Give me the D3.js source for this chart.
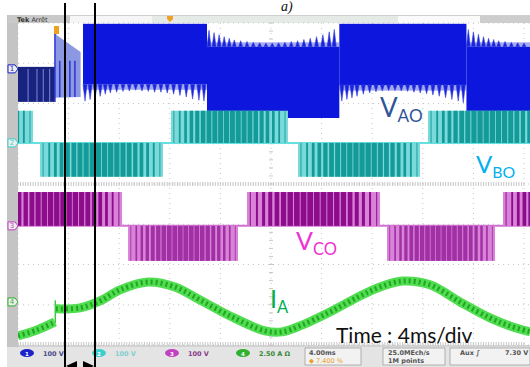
<!DOCTYPE html>
<html>
<head>
<meta charset="utf-8">
<script src="https://cdn.jsdelivr.net/npm/d3@7"></script>
<style>
  body { margin: 0; background: #fff; }
  svg { display: block; }
</style>
</head>
<body>
<script>
// time in ms, channel values in V (A for CH4)
var vaoStart  = [0, 5.14, 14.94, 25.40, 35.45];
var vaoEnd    = [2.92, 14.94, 25.40, 35.45, 40.6];
var vaoTop    = [5, 112, 55, 112, 55];
var vaoBottom = [-82, -38, -122, -40, -122];
// light gaps inside the first (dark) segment
var vaoGapT = [0.8, 1.5, 2.0, 2.5];
// transient between 2.9 and 5.1 ms: outline [time, V]
var vaoTrans = [[2.92, 97], [3.05, 84], [4.95, 42], [4.95, -70], [2.92, -72]];
var vaoTransLines = [3.3, 3.7, 4.1, 4.5];
// ringing spikes [time, base, tip]
var vaoSpikes = [
  [5.3,-38,-80],[5.7,-38,-76],[6.1,-38,-72],[6.5,-38,-68],[6.9,-38,-63],[7.3,-38,-60],[7.8,-38,-58],[8.3,-38,-56],
  [8.8,-38,-55],[9.3,-38,-53],[9.8,-38,-55],[10.3,-38,-56],[10.8,-38,-58],[11.3,-38,-58],[11.8,-38,-60],[12.3,-38,-63],
  [12.8,-38,-66],[13.3,-38,-70],[13.8,-38,-75],[14.3,-38,-78],[14.7,-38,-80],
  [15.1,55,96],[15.5,55,90],[15.9,55,85],[16.3,55,80],[16.7,55,76],[17.1,55,72],[17.6,55,70],[18.1,55,68],[18.6,55,66],
  [19.1,55,65],[19.6,55,64],[20.1,55,64],[20.6,55,65],[21.1,55,66],[21.6,55,68],[22.1,55,70],[22.6,55,73],[23.1,55,76],
  [23.6,55,80],[24.1,55,85],[24.6,55,92],[25.0,55,98],
  [25.6,-40,-80],[26.0,-40,-76],[26.4,-40,-72],[26.8,-40,-68],[27.3,-40,-63],[27.8,-40,-60],[28.3,-40,-57],[28.8,-40,-55],
  [29.3,-40,-54],[29.8,-40,-54],[30.3,-40,-55],[30.8,-40,-56],[31.3,-40,-58],[31.8,-40,-60],[32.3,-40,-62],[32.8,-40,-65],
  [33.3,-40,-68],[33.8,-40,-72],[34.3,-40,-76],[34.8,-40,-80],[35.2,-40,-84],
  [35.6,55,98],[36.0,55,92],[36.4,55,86],[36.8,55,80],[37.2,55,76],[37.6,55,73],[38.0,55,70],[38.5,55,68],[39.0,55,66],
  [39.5,55,65],[40.0,55,64]
];

var vboStart = [-8.5, 1.74, 12.09, 22.13, 32.41];
var vboEnd   = [1.19, 11.46, 21.34, 31.78, 42.1];
var vboLevel = [80, -84, 80, -84, 80];

var vcoStart = [-1.6, 8.70, 18.10, 29.17, 38.34];
var vcoEnd   = [8.22, 17.39, 28.62, 37.71, 48.0];
var vcoLevel = [84, -87, 84, -87, 84];

// pulse width ratio across one block, read from the dark/light pattern
var pwmDuty = [0.15, 0.3, 0.45, 0.6, 0.7, 0.78, 0.82, 0.85, 0.86, 0.86, 0.86, 0.86, 0.85, 0.82, 0.78, 0.7, 0.6, 0.45, 0.3, 0.15];

var iaPreT  = [0, 1.5, 2.92];
var iaPreV  = [-2.11, -1.74, -1.24];
var iaT = [3.0, 4.9, 6.48, 8.06, 10.28, 12.41, 14.39, 16.76, 19.53, 20.87, 22.29, 24.66, 27.04, 28.62, 30.43, 32.57, 34.94, 37.31, 38.89, 40.5];
var iaV = [-0.43, -0.37, 0.06, 0.75, 1.24, 0.93, 0.12, -0.87, -1.80, -1.86, -1.49, -0.62, 0.37, 0.93, 1.30, 1.06, 0, -0.99, -1.49, -1.86];

var chScale  = [100, 100, 100, 2.5];
var chOffset = [2.86, 1.02, -1.04, -2.93];
var chLabel  = ['100 V', '100 V', '100 V', '2.50 A \u03A9'];

var W = 530, H = 367;
var svg = d3.select('body').append('svg').attr('width', W).attr('height', H);

var x = d3.scaleLinear().domain([0, 40]).range([18, 524]);
var yDiv = d3.scaleLinear().domain([-4, 4]).range([345, 23]);
function yc(ch, v) { return yDiv(chOffset[ch] + v / chScale[ch]); }

// frame
svg.append('rect').attr('x', 7).attr('y', 15).attr('width', 11).attr('height', 333).attr('fill', '#c4c4c4');
svg.append('rect').attr('x', 8).attr('y', 15).attr('width', 62).attr('height', 8).attr('fill', '#c9c9c9');
svg.append('rect').attr('x', 70).attr('y', 15).attr('width', 82).attr('height', 8).attr('fill', '#f6f6f6');
svg.append('rect').attr('x', 152).attr('y', 15).attr('width', 246).attr('height', 8).attr('fill', '#e6eae6');
svg.append('rect').attr('x', 398).attr('y', 15).attr('width', 82).attr('height', 8).attr('fill', '#fafafa');
svg.append('rect').attr('x', 480).attr('y', 15).attr('width', 50).attr('height', 8).attr('fill', '#cdcdcd');
svg.append('line').attr('x1', 70).attr('x2', 530).attr('y1', 15.5).attr('y2', 15.5).attr('stroke', '#d0d0d0');
svg.append('text').attr('x', 17).attr('y', 21.5).attr('font-family', 'DejaVu Sans').attr('font-size', 6.5)
  .attr('fill', '#333').html('<tspan font-weight="bold">Tek</tspan> Arr\u00eat');

svg.append('defs').append('clipPath').attr('id', 'scr')
  .append('rect').attr('x', 18).attr('y', 23).attr('width', 512).attr('height', 323);

var grid = svg.append('g').attr('stroke', '#c8c8c8').attr('stroke-width', 1);
d3.range(0, 11).forEach(function(i) {
  grid.append('line').attr('x1', x(i * 4)).attr('x2', x(i * 4)).attr('y1', 23).attr('y2', 345)
    .attr('stroke-dasharray', '1,4');
});
d3.range(-4, 5).forEach(function(i) {
  grid.append('line').attr('x1', 18).attr('x2', 530).attr('y1', yDiv(i)).attr('y2', yDiv(i))
    .attr('stroke-dasharray', '1,4');
});
d3.range(0, 201).forEach(function(i) {
  var t = i * 0.2;
  grid.append('line').attr('x1', x(t)).attr('x2', x(t)).attr('y1', yDiv(0) - 2).attr('y2', yDiv(0) + 2);
  grid.append('line').attr('x1', x(t)).attr('x2', x(t)).attr('y1', 345).attr('y2', 342);
});
d3.range(0, 41).forEach(function(i) {
  var d = -4 + i * 0.2;
  grid.append('line').attr('x1', x(20) - 2).attr('x2', x(20) + 2).attr('y1', yDiv(d)).attr('y2', yDiv(d));
});

var scr = svg.append('g').attr('clip-path', 'url(#scr)');

// CH1 VAO
var blue = '#0c16dc';
vaoStart.forEach(function(s, i) {
  scr.append('rect').attr('x', x(s)).attr('width', x(vaoEnd[i]) - x(s))
    .attr('y', yc(0, vaoTop[i])).attr('height', yc(0, vaoBottom[i]) - yc(0, vaoTop[i]))
    .attr('fill', i === 0 ? '#17237f' : blue);
});
scr.append('g').selectAll('line').data(vaoGapT).enter().append('line')
  .attr('x1', function(d) { return x(d); }).attr('x2', function(d) { return x(d); })
  .attr('y1', yc(0, 0)).attr('y2', yc(0, -82)).attr('stroke', '#6c78c8').attr('stroke-width', 1.2);
scr.append('path').attr('d', d3.line().x(function(d) { return x(d[0]); }).y(function(d) { return yc(0, d[1]); })(vaoTrans) + 'Z')
  .attr('fill', '#8d98e2');
scr.append('g').selectAll('line').data(vaoTransLines).enter().append('line')
  .attr('x1', function(d) { return x(d); }).attr('x2', function(d) { return x(d); })
  .attr('y1', yc(0, 20)).attr('y2', yc(0, -70)).attr('stroke', '#2a36d0').attr('stroke-width', 1.5);
scr.append('line').attr('x1', x(2.92)).attr('x2', x(2.92)).attr('y1', yc(0, 97)).attr('y2', yc(0, -82))
  .attr('stroke', '#2a36d0').attr('stroke-width', 1.5);
// soft halo along the jagged edges, then the spikes
scr.append('g').selectAll('rect').data([[5.14, 14.94, -38, -52], [14.94, 25.40, 55, 66], [25.40, 35.45, -40, -54], [35.45, 40.6, 55, 66]])
  .enter().append('rect')
  .attr('x', function(d) { return x(d[0]); }).attr('width', function(d) { return x(d[1]) - x(d[0]); })
  .attr('y', function(d) { return Math.min(yc(0, d[2]), yc(0, d[3])); })
  .attr('height', function(d) { return Math.abs(yc(0, d[2]) - yc(0, d[3])); })
  .attr('fill', '#5a64e4').attr('opacity', 0.55);
scr.append('g').selectAll('path').data(vaoSpikes).enter().append('path')
  .attr('d', function(d) {
    return 'M' + x(d[0] - 0.16) + ',' + yc(0, d[1]) + 'L' + x(d[0]) + ',' + yc(0, d[2]) +
      'L' + x(d[0] + 0.16) + ',' + yc(0, d[1]) + 'Z';
  })
  .attr('fill', '#1822dc').attr('stroke', '#3842e0').attr('stroke-width', 0.6);

// PWM blocks
function drawPwm(ch, starts, ends, levels, light, dark, darkNeg, line) {
  var g = scr.append('g');
  g.append('line').attr('x1', 18).attr('x2', 530).attr('y1', yc(ch, 0)).attr('y2', yc(ch, 0))
    .attr('stroke', line).attr('stroke-width', 2);
  starts.forEach(function(s, i) {
    var y0 = yc(ch, 0), y1 = yc(ch, levels[i]);
    var top = Math.min(y0, y1), h = Math.abs(y1 - y0);
    g.append('rect').attr('x', x(s)).attr('width', x(ends[i]) - x(s)).attr('y', top).attr('height', h)
      .attr('fill', light);
    var slot = (ends[i] - s) / pwmDuty.length;
    g.selectAll(null).data(pwmDuty).enter().append('rect')
      .attr('x', function(d, k) { return x(s + slot * (k + 0.5 - d / 2)); })
      .attr('width', function(d) { return x(slot * d) - x(0); })
      .attr('y', top).attr('height', h)
      .attr('fill', levels[i] > 0 ? dark : darkNeg);
  });
}
drawPwm(1, vboStart, vboEnd, vboLevel, '#7ad9d9', '#159a9a', '#159a9a', '#63e0e0');
drawPwm(2, vcoStart, vcoEnd, vcoLevel, '#d882d8', '#8c0c8c', '#a030a4', '#d070d0');

// CH4 IA
var line = d3.line().x(function(d) { return x(d[0]); }).y(function(d) { return yc(3, d[1]); })
  .curve(d3.curveCatmullRom);
var pre = iaPreT.map(function(t, i) { return [t, iaPreV[i]]; });
var post = iaT.map(function(t, i) { return [t, iaV[i]]; });
[pre, post].forEach(function(p) {
  scr.append('path').attr('d', line(p)).attr('fill', 'none').attr('stroke', '#52dc52').attr('stroke-width', 9);
  scr.append('path').attr('d', line(p)).attr('fill', 'none').attr('stroke', '#1fa81f').attr('stroke-width', 5)
    .attr('stroke-dasharray', '2,3');
});
scr.append('line').attr('x1', x(2.95)).attr('x2', x(2.95)).attr('y1', yc(3, -1.3)).attr('y2', yc(3, 0.1))
  .attr('stroke', '#3cc83c').attr('stroke-width', 1.5);

// channel markers on the left
var mkCol = ['#1a22c8', '#3ccfcf', '#c040c0', '#30b030'];
chOffset.forEach(function(o, i) {
  var g = svg.append('g').attr('transform', 'translate(8,' + yDiv(o) + ')');
  g.append('path').attr('d', 'M0,-4H7L10,0L7,4H0Z').attr('fill', '#eee').attr('stroke', mkCol[i]).attr('stroke-width', 1);
  g.append('text').attr('x', 4).attr('y', 2.5).attr('text-anchor', 'middle').attr('font-size', 7)
    .attr('font-family', 'DejaVu Sans').attr('fill', mkCol[i]).text(i + 1);
});
// trigger markers
svg.append('rect').attr('x', 54).attr('y', 26).attr('width', 5).attr('height', 8).attr('fill', '#f0a020');
svg.append('path').attr('d', 'M167,16H173V19L170,22L167,19Z').attr('fill', '#f0a020');

// status bar
svg.append('rect').attr('x', 7).attr('y', 347).attr('width', 523).attr('height', 20).attr('fill', '#e4e4e4');
svg.append('line').attr('x1', 18).attr('x2', 530).attr('y1', 346).attr('y2', 346).attr('stroke', '#a8a8a8');
var stat = svg.append('g').attr('font-family', 'DejaVu Sans').attr('font-size', 6.5).attr('font-weight', 'bold');
var ovX = [20, 92, 165, 236];
var txCol = ['#4a4a8a', '#7fcfd0', '#8a3a8a', '#3a8a3a'];
ovX.forEach(function(ox, i) {
  stat.append('ellipse').attr('cx', ox + 7).attr('cy', 353).attr('rx', 7).attr('ry', 4).attr('fill', mkCol[i]);
  stat.append('text').attr('x', ox + 7).attr('y', 355.5).attr('text-anchor', 'middle').attr('fill', '#fff').attr('font-size', 5.5).text(i + 1);
  stat.append('text').attr('x', ox + 23).attr('y', 356).attr('fill', txCol[i]).text(chLabel[i]);
});
[[305, 56], [383, 62], [450, 80]].forEach(function(b) {
  stat.append('rect').attr('x', b[0]).attr('y', 348).attr('width', b[1]).attr('height', 17)
    .attr('fill', '#f2f2f2').attr('stroke', '#a0a0a0').attr('stroke-width', 0.8);
});
stat.append('text').attr('x', 309).attr('y', 355).attr('fill', '#555').text('4.00ms');
stat.append('text').attr('x', 309).attr('y', 363).attr('fill', '#e8a030').attr('font-weight', 'normal').text('\u25C6 7.400 %');
stat.append('text').attr('x', 388).attr('y', 355).attr('fill', '#555').text('25.0MEch/s');
stat.append('text').attr('x', 388).attr('y', 363).attr('fill', '#555').text('1M points');
stat.append('text').attr('x', 460).attr('y', 355).attr('fill', '#555').text('Aux \u222B');
stat.append('text').attr('x', 505).attr('y', 355).attr('fill', '#555').text('7.30 V');

// annotations
var lab = svg.append('g').attr('font-family', 'Lato');
function sub(xp, yp, main, s, size, col) {
  var t = lab.append('text').attr('x', xp).attr('y', yp).attr('fill', col).attr('font-size', size);
  t.append('tspan').text(main);
  t.append('tspan').attr('dy', size * 0.2).attr('font-size', size * 0.66).text(s);
}
sub(380, 117, 'V', 'AO', 26, '#2f5597');
sub(476, 173, 'V', 'BO', 24, '#00b0f0');
sub(296, 250, 'V', 'CO', 25, '#f032d0');
sub(270, 308, 'I', 'A', 25, '#00b050');
lab.append('text').attr('x', 336).attr('y', 343).attr('font-size', 21).attr('fill', '#111').text('Time : 4ms/div');
svg.append('text').attr('x', 281).attr('y', 11).attr('font-family', 'Liberation Serif').attr('font-style', 'italic')
  .attr('font-size', 14).attr('fill', '#111').text('a)');

// cursors
[65, 95].forEach(function(cx) {
  svg.append('line').attr('x1', cx).attr('x2', cx).attr('y1', 3).attr('y2', 367).attr('stroke', '#000').attr('stroke-width', 2);
});
svg.append('path').attr('d', 'M66,366L77,361V371Z').attr('fill', '#000');
svg.append('path').attr('d', 'M94,366L83,361V371Z').attr('fill', '#000');
</script>
</body>
</html>
